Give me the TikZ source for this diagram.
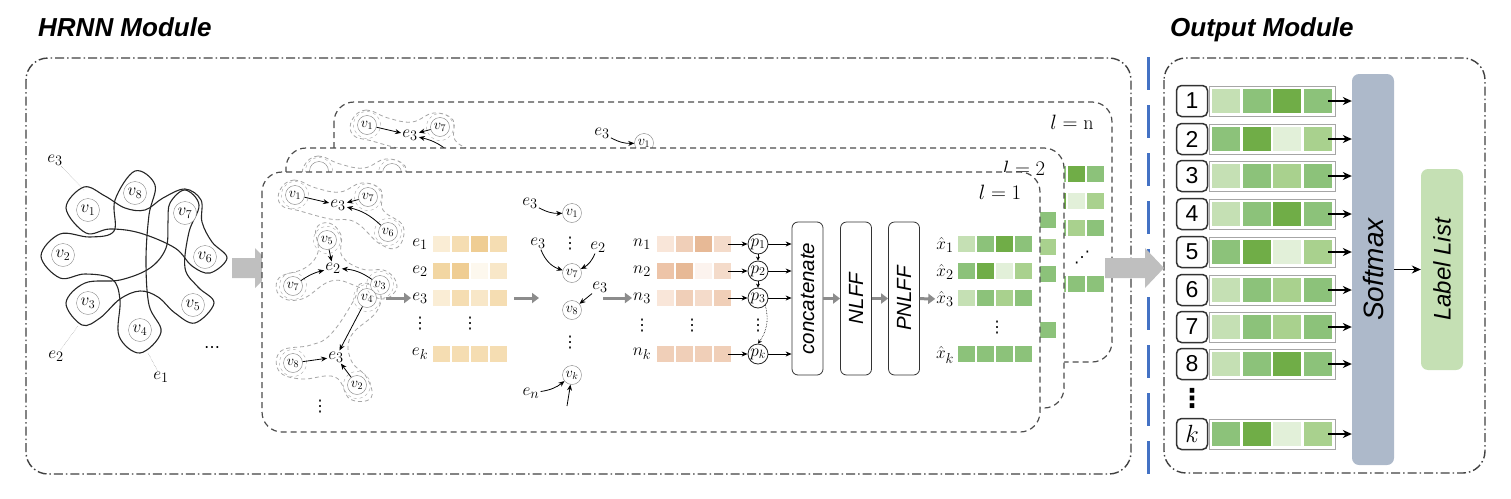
\documentclass[tikz,border=0pt]{standalone}
\usepackage{fontspec}
\newfontfamily\arialfont{Liberation Sans}
\newfontfamily\symfont{DejaVu Sans}
\usetikzlibrary{arrows.meta, positioning, calc}
\definecolor{gA}{HTML}{E2F0D9}
\definecolor{gB}{HTML}{C5E0B4}
\definecolor{gC}{HTML}{A9D18E}
\definecolor{gD}{HTML}{8CC27A}
\definecolor{gE}{HTML}{70AD47}
\definecolor{tA}{HTML}{FAEDD5}
\definecolor{tB}{HTML}{F5DDB2}
\definecolor{tC}{HTML}{EFCD93}
\definecolor{tD}{HTML}{FDF8EE}
\definecolor{tE}{HTML}{F2D6A2}
\definecolor{tF}{HTML}{F8E7C8}
\definecolor{pA}{HTML}{F9E6D9}
\definecolor{pB}{HTML}{F0CFB8}
\definecolor{pC}{HTML}{E7B996}
\definecolor{pD}{HTML}{FCF3EE}
\definecolor{pE}{HTML}{EDC4A8}
\definecolor{pF}{HTML}{F4DBCA}
\definecolor{softGrey}{HTML}{ADB9CA}
\definecolor{sepBlue}{HTML}{4472C4}
\newcommand{\fs}[1]{\fontsize{#1}{#1}\selectfont}
\newcommand{\vd}{{\symfont ⋮}}
% one row of four small cells
\newcommand{\cellrow}[3]{\foreach \c [count=\i from 0] in {#3}
  \fill[\c] ({#1+19*\i},{#2-8}) rectangle +(17,16);}
% frame of one layer
\newcommand{\layerframe}[1]{%
  \draw[panelbox] (262,172) rectangle (1040,432);
  \node[font=\fs{20}] (lay) at (1000,192) {$l = #1$};}
% first hyperedge group of a layer
\newcommand{\hullA}{%
  \draw[hull] plot[smooth cycle, tension=0.7] coordinates {(280,190) (294,180)
    (316,188) (340,192) (362,183) (381,190) (383,210) (403,226) (398,247)
    (380,244) (355,222) (330,219) (300,211) (281,205)};}
\newcommand{\groupA}{%
  \hullA
  \node[vtx] (a1) at (295,195) {$v_1$};
  \node[vtx] (a7) at (368,197) {$v_7$};
  \node[vtx] (a6) at (388,232) {$v_6$};
  \node[edg] (ae) at (338,205) {$e_3$};
  \foreach \n in {a1,a7,a6} \draw[halo] (\n) circle (13.5pt);
  \draw[arr] (a1) -- (ae);
  \draw[arr] (a7) -- (ae);
  \draw[arr] (a6) to[bend right=15] (ae);}
\newcommand{\firstmsg}{%
  \node[edg] (m1e) at (530,203) {$e_3$};
  \node[vtx] (mv1) at (572,213) {$v_1$};
  \draw[arr] (m1e) to[bend right=15] (mv1);}
\newcommand{\featcells}{%
  \cellrow{958}{244}{gB,gD,gE,gD}
  \cellrow{958}{271}{gD,gE,gA,gC}
  \cellrow{958}{298}{gB,gD,gC,gD}
  \cellrow{958}{354}{gD,gD,gD,gD}}

\begin{document}
\begin{tikzpicture}[x=1pt, y=-1pt,
   vtx/.style={circle, draw=black!50, fill=white, inner sep=0pt,
               minimum size=19pt, font=\fs{14}},
   bigv/.style={circle, draw=black!45, fill=white, inner sep=0pt,
                minimum size=23pt, font=\fs{18}},
   halo/.style={draw=black!35, dashed},
   hull/.style={draw=black!35, dash pattern=on 4pt off 3pt, thick},
   blob/.style={draw=black!85, line width=1.1pt},
   edg/.style={inner sep=1pt, font=\fs{19}},
   dots/.style={inner sep=0pt, font=\symfont\fs{16}},
   arr/.style={-{Stealth[length=6pt, width=5pt]}, thick},
   sarr/.style={-{Stealth[length=4pt, width=4pt]}, semithick},
   barr/.style={-{Stealth[length=9pt, width=8pt]}, line width=1.8pt},
   garr/.style={-{Triangle[length=7pt, width=10pt]}, line width=3pt, black!45},
   leader/.style={black!50, densely dotted, thin},
   pc/.style={circle, draw=black!85, thick, fill=white, inner sep=0pt,
              minimum size=20pt, font=\fs{17}},
   stage/.style={rectangle, rounded corners=6pt, draw=black!80, thick,
                 fill=white, rotate=90, minimum width=153pt,
                 minimum height=31pt, font=\arialfont\itshape\fs{20.5}},
   panelbox/.style={draw=black!70, dash pattern=on 6pt off 4pt,
                    line width=1.2pt, fill=white, rounded corners=20pt},
   frame/.style={draw=black!75, dash pattern=on 9pt off 3pt on 1.5pt off 3pt,
                 line width=1.4pt, rounded corners=22pt},
   title/.style={anchor=base west, inner sep=0pt,
                 font=\arialfont\bfseries\itshape\fs{26}},
   numbox/.style={rectangle, rounded corners=5pt, draw=black!80,
                  line width=1.5pt, fill=white, minimum width=31pt,
                  minimum height=31pt, inner sep=0pt, font=\arialfont\fs{23}},
   tall/.style={rectangle, rounded corners=7pt, rotate=90, minimum height=42pt,
                inner sep=0pt, font=\arialfont\itshape}]
\useasboundingbox (0,0) rectangle (1511,498);

% titles and module frames
\node[title] (hrnnT) at (38,36) {HRNN Module};
\node[title] (outT) at (1170,36) {Output Module};
\draw[frame] (26,58) rectangle (1131,474);
\draw[frame] (1164,58) rectangle (1485,473);
\draw[sepBlue, line width=3pt, dash pattern=on 33pt off 15pt] (1148,57) -- (1148,476);

% input hypergraph
\draw[blob] plot[smooth cycle, tension=0.6] coordinates {(135,171) (155,185)
  (149,215) (146,260) (149,305) (161,332) (140,353) (119,336) (120,300)
  (112,279) (85,274) (60,278) (41,256) (60,234) (90,237) (114,231) (115,200)};
\draw[blob] plot[smooth cycle, tension=0.6] coordinates {(66,208) (84,187)
  (105,196) (125,208) (145,210) (163,198) (185,189) (201,200) (202,222)
  (212,242) (227,258) (210,273) (192,266) (175,248) (140,233) (110,229) (86,233)};
\draw[blob] plot[smooth cycle, tension=0.6] coordinates {(66,303) (85,283)
  (120,280) (150,268) (166,248) (168,222) (170,203) (185,190) (199,205)
  (189,232) (185,268) (198,287) (214,303) (195,323) (175,313) (158,297)
  (140,291) (120,299) (100,318) (82,325)};
\node[bigv] (h8) at (135,193) {$v_8$};
\node[bigv] (h1) at (88,210) {$v_1$};
\node[bigv] (h7) at (185,213) {$v_7$};
\node[bigv] (h2) at (63,255) {$v_2$};
\node[bigv] (h6) at (205,257) {$v_6$};
\node[bigv] (h3) at (88,303) {$v_3$};
\node[bigv] (h5) at (193,305) {$v_5$};
\node[bigv] (h4) at (140,330) {$v_4$};
\node[edg] (he3) at (55,160) {$e_3$};
\node[edg] (he2) at (56,356) {$e_2$};
\node[edg] (he1) at (161,377) {$e_1$};
\node[dots] (hdots) at (212,350) {⋯};
\coordinate (he3t) at (84,190);
\coordinate (he2t) at (78,326);
\coordinate (he1t) at (148,353);
\draw[leader] (he3) -- (he3t);
\draw[leader] (he2) -- (he2t);
\draw[leader] (he1) -- (he1t);
\fill[black!25] (232,258) -- (255,258) -- (255,248) -- (275,268)
  -- (255,288) -- (255,278) -- (232,278) -- cycle;

% layer l = n (back)
\begin{scope}[shift={(72,-70)}]
  \layerframe{\mathrm{n}}
  \groupA
  \firstmsg
  \featcells
  \node[dots] (dn) at (1010,328) {⋰};
\end{scope}

% layer l = 2
\begin{scope}[shift={(24,-24)}]
  \layerframe{2}
  \hullA
  \node[vtx] (a1) at (295,195) {};
  \node[vtx] (a7) at (368,197) {};
  \foreach \n in {a1,a7} \draw[halo] (\n) circle (13.5pt);
  \featcells
\end{scope}

% layer l = 1 (front)
\layerframe{1}
\groupA
\draw[hull] plot[smooth cycle, tension=0.7] coordinates {(316,229) (329,223)
  (341,235) (342,256) (362,269) (386,271) (397,287) (382,299) (356,286)
  (331,281) (302,299) (280,296) (279,278) (305,268) (318,252)};
\draw[hull] plot[smooth cycle, tension=0.7] coordinates {(360,284) (379,289)
  (377,311) (351,336) (351,360) (367,378) (371,398) (350,399) (335,377)
  (301,379) (279,371) (281,351) (311,345) (331,334) (354,300)};
\node[vtx] (b5) at (327,240) {$v_5$};
\node[vtx] (b7) at (293,286) {$v_7$};
\node[vtx] (b3) at (380,285) {$v_3$};
\node[edg] (be) at (333,268) {$e_2$};
\node[vtx] (c4) at (367,298) {$v_4$};
\node[vtx] (c8) at (293,363) {$v_8$};
\node[vtx] (c2) at (357,385) {$v_2$};
\node[edg] (ce) at (336,357) {$e_3$};
\node[dots] (cd) at (320,407) {⋮};
\foreach \n in {b5,b7,b3,c4,c8,c2} \draw[halo] (\n) circle (13.5pt);
\draw[arr] (b5) -- (be);
\draw[arr] (b7) to[bend left=10] (be);
\draw[arr] (b3) to[bend right=15] (be);
\draw[arr] (c4) -- (ce);
\draw[arr] (c8) -- (ce);
\draw[arr] (c2) -- (ce);
% hyperedge embeddings
\node[edg] (r1) at (420,244) {$e_1$};
\node[edg] (r2) at (420,271) {$e_2$};
\node[edg] (r3) at (420,298) {$e_3$};
\node[dots] (rd) at (420,324) {⋮};
\node[edg] (rk) at (420,354) {$e_k$};
\node[dots] (rd2) at (470,324) {⋮};
\cellrow{433}{244}{tA,tB,tC,tB}
\cellrow{433}{271}{tE,tC,tD,tF}
\cellrow{433}{298}{tA,tB,tF,tB}
\cellrow{433}{354}{tB,tB,tB,tB}
\coordinate (gs1) at (386,298);
\draw[garr] (gs1) -- (r3);
% hyperedge to vertex
\coordinate (gs2) at (514,298);
\coordinate (gt2) at (539,298);
\draw[garr] (gs2) -- (gt2);
\firstmsg
\node[dots] (md1) at (570,244) {⋮};
\node[edg] (m2e) at (538,243) {$e_3$};
\node[edg] (m2f) at (598,247) {$e_2$};
\node[vtx] (mv7) at (572,273) {$v_7$};
\node[edg] (m3e) at (600,287) {$e_3$};
\node[vtx] (mv8) at (572,310) {$v_8$};
\node[dots] (md2) at (570,343) {⋮};
\node[vtx] (mvk) at (572,375) {$v_k$};
\node[edg] (mne) at (531,393) {$e_n$};
\coordinate (mk) at (567,406);
\draw[arr] (m2e) to[bend right=25] (mv7);
\draw[arr] (m2f) to[bend left=20] (mv7);
\draw[arr] (m3e) -- (mv8);
\draw[arr] (mne) to[bend right=15] (mvk);
\draw[arr] (mk) -- (mvk);
% vertex embeddings
\coordinate (gs3) at (603,298);
\node[edg] (n1) at (642,244) {$n_1$};
\node[edg] (n2) at (642,271) {$n_2$};
\node[edg] (n3) at (642,298) {$n_3$};
\node[dots] (nd) at (642,326) {⋮};
\node[edg] (nk) at (642,354) {$n_k$};
\node[dots] (nd2) at (692,326) {⋮};
\draw[garr] (gs3) -- (n3);
\cellrow{657}{244}{pA,pB,pC,pF}
\cellrow{657}{271}{pE,pC,pD,pF}
\cellrow{657}{298}{pA,pB,pF,pB}
\cellrow{657}{354}{pB,pB,pB,pB}
\node[stage] (cat) at (807.5,298.5) {concatenate};
\node[stage] (nlff) at (856,298.5) {NLFF};
\node[stage] (pnlff) at (904,298.5) {PNLFF};
\node[pc] (p1) at (758,244) {$p_1$};
\node[pc] (p2) at (758,271) {$p_2$};
\node[pc] (p3) at (758,298) {$p_3$};
\node[dots] (pd) at (758,326) {⋮};
\node[pc] (pk) at (758,354) {$p_k$};
\foreach \i in {1,2,3,k} {
  \draw[arr] ([xshift=-30pt]p\i.center) -- (p\i);
  \draw[arr] (p\i) -- (p\i -| cat.north);
}
\draw[sarr] (p1.south) -- (p2.north);
\draw[sarr] (p2.south) -- (p3.north);
\draw[sarr, densely dotted] (p3.south east) to[bend left=25] (pk.north);
\draw[garr] (cat) -- (nlff);
\draw[garr] (nlff) -- (pnlff);
% node features
\node[edg] (x1) at (945,245) {$\hat{x}_1$};
\node[edg] (x2) at (945,272) {$\hat{x}_2$};
\node[edg] (x3) at (945,299) {$\hat{x}_3$};
\node[dots] (xd) at (997,328) {⋮};
\node[edg] (xk) at (945,355) {$\hat{x}_k$};
\draw[garr] (pnlff) -- (x3);
\featcells
\fill[black!25] (1105,258) -- (1145,258) -- (1145,248) -- (1164,268)
  -- (1145,288) -- (1145,278) -- (1105,278) -- cycle;

% output module
\node[tall, fill=softGrey, minimum width=391pt, font=\arialfont\itshape\fs{28}]
  (soft) at (1373,269.5) {Softmax};
\node[tall, fill=gB, minimum width=201pt, font=\arialfont\itshape\fs{24}]
  (lbl) at (1442,269.5) {Label List};
\foreach \n/\t/\y/\ca/\cb/\cc/\cd in {1/1/101/gB/gD/gE/gD, 2/2/139/gD/gE/gA/gC,
    3/3/176/gB/gD/gC/gD, 4/4/214/gB/gD/gE/gD, 5/5/252/gD/gE/gA/gC,
    6/6/290/gB/gD/gC/gD, 7/7/327/gB/gD/gC/gD, 8/8/364/gB/gD/gE/gD,
    k/$k$/434/gD/gE/gA/gC} {
  \node[numbox] (num\n) at (1192,\y) {\t};
  \draw[black!35, line width=1pt] (1209,\y-15) rectangle (1335,\y+15);
  \fill[\ca] (1212,\y-12) rectangle +(28,24);
  \fill[\cb] (1242.5,\y-12) rectangle +(28,24);
  \fill[\cc] (1273,\y-12) rectangle +(28,24);
  \fill[\cd] (1303.5,\y-12) rectangle +(28,24);
  \draw[barr] ([xshift=136pt]num\n.center) -- (soft.north |- num\n);
}
\node[dots, font=\symfont\bfseries\fs{26}] (numd) at (1192,398) {⋮};
\draw[barr] (soft) -- (lbl);
\end{tikzpicture}
\end{document}
